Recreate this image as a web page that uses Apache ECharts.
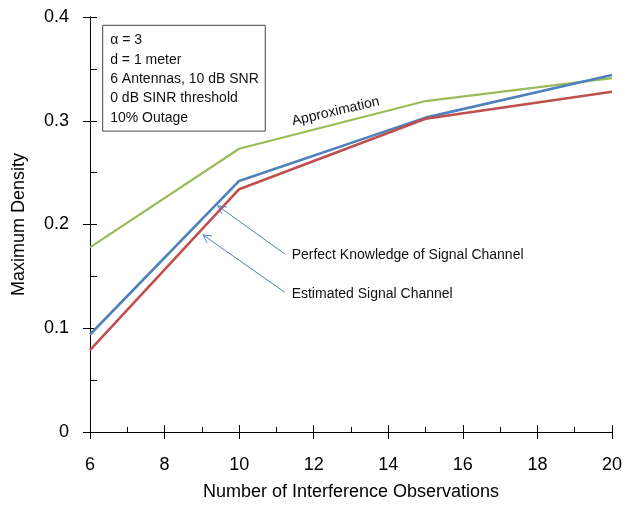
<!DOCTYPE html>
<html><head><meta charset="utf-8">
<script src="https://cdn.jsdelivr.net/npm/echarts@6/dist/echarts.min.js"></script>
<style>html,body{margin:0;padding:0;background:#fff}#c{width:625px;height:506px}</style>
</head><body><div id="c"></div>
<script>
// ---- data ----
const observations = [6, 10, 15, 20];
const approximation = [0.178, 0.273, 0.319, 0.341];
const perfectKnowledge = [0.094, 0.242, 0.303, 0.344];
const estimatedChannel = [0.079, 0.234, 0.302, 0.328];
const infoLines = ['α = 3', 'd = 1 meter', '6 Antennas, 10 dB SNR', '0 dB SINR threshold', '10% Outage'];
const seriesNames = ['Approximation', 'Perfect Knowledge of Signal Channel', 'Estimated Signal Channel'];

// ---- chart ----
const font = '"Liberation Sans", Arial, sans-serif';
const pairs = arr => observations.map((x, i) => [x, arr[i]]);
const chart = echarts.init(document.getElementById('c'), null, { renderer: 'canvas' });
const axisLine = { show: true, lineStyle: { color: '#000', width: 1 } };
const tickStyle = { color: '#000', width: 1 };
const baseX = { type: 'value', min: 6, max: 20, interval: 2, position: 'bottom', splitLine: { show: false }, axisLine };
const baseY = { type: 'value', min: 0, max: 0.4, interval: 0.1, position: 'left', splitLine: { show: false }, axisLine };

const option = {
  animation: false,
  backgroundColor: '#fff',
  grid: { left: 90, right: 12, top: 17, bottom: 72 },
  xAxis: [
    { ...baseX, name: 'Number of Interference Observations', nameLocation: 'middle', nameGap: 51,
      nameTextStyle: { fontSize: 18, color: '#000', fontFamily: font },
      axisTick: { show: true, length: 7, lineStyle: tickStyle },
      axisLabel: { fontSize: 18, color: '#000', fontFamily: font, margin: 24 } },
    { ...baseX, axisTick: { show: true, inside: true, length: 7, lineStyle: tickStyle },
      minorTick: { show: true, splitNumber: 2, length: 5, lineStyle: tickStyle },
      axisLabel: { show: false } }
  ],
  yAxis: [
    { ...baseY, name: 'Maximum Density', nameLocation: 'middle', nameGap: 62,
      nameTextStyle: { fontSize: 18, color: '#000', fontFamily: font },
      axisTick: { show: true, length: 7, lineStyle: tickStyle },
      axisLabel: { fontSize: 18, color: '#000', fontFamily: font, margin: 21 } },
    { ...baseY, axisTick: { show: true, inside: true, length: 7, lineStyle: tickStyle },
      minorTick: { show: true, splitNumber: 2, length: 7, lineStyle: tickStyle },
      axisLabel: { show: false } }
  ],
  series: [
    { name: seriesNames[0], type: 'line', data: pairs(approximation), showSymbol: false, symbol: 'none',
      lineStyle: { color: '#9BBB59', width: 2.2 }, z: 3 },
    { name: seriesNames[1], type: 'line', data: pairs(perfectKnowledge), showSymbol: false, symbol: 'none',
      lineStyle: { color: '#4F81BD', width: 2.6 }, z: 4 },
    { name: seriesNames[2], type: 'line', data: pairs(estimatedChannel), showSymbol: false, symbol: 'none',
      lineStyle: { color: '#C0504D', width: 2.6 }, z: 5 }
  ]
};
chart.setOption(option);

// ---- annotations ----
const px = (x, y) => chart.convertToPixel({ xAxisIndex: 0, yAxisIndex: 0 }, [x, y]);
function arrow(tail, head, color) {
  const dx = head[0] - tail[0], dy = head[1] - tail[1];
  const L = Math.hypot(dx, dy), ux = dx / L, uy = dy / L;
  const len = 9, a = 28 * Math.PI / 180;
  const wing = s => {
    const c = Math.cos(s * a), sn = Math.sin(s * a);
    const rx = ux * c - uy * sn, ry = ux * sn + uy * c;
    return [head[0] - rx * len, head[1] - ry * len];
  };
  return [
    { type: 'line', shape: { x1: tail[0], y1: tail[1], x2: head[0], y2: head[1] }, style: { stroke: color, lineWidth: 1 }, z: 10 },
    { type: 'polyline', shape: { points: [wing(1), head, wing(-1)] }, style: { stroke: color, lineWidth: 1, fill: null }, z: 10 }
  ];
}
const textStyle = (extra) => Object.assign({ fill: '#111', fontSize: 14, fontFamily: font }, extra);
const boxTL = px(6.34, 0.392), boxBR = px(10.70, 0.290);
const head1 = px(9.43, 0.218), tail1 = px(11.22, 0.1717);
const head2 = px(9.03, 0.190), tail2 = px(11.22, 0.1348);
const approxPos = px(12.59, 0.309);
const graphics = [
  { type: 'rect', shape: { x: boxTL[0], y: boxTL[1], width: boxBR[0] - boxTL[0], height: boxBR[1] - boxTL[1] },
    style: { fill: '#fff', stroke: '#444', lineWidth: 1 }, z: 20 },
  { type: 'text', x: boxTL[0] + 7.5, y: boxTL[1] + 5.5, z: 21,
    style: textStyle({ text: infoLines.join('\n'), lineHeight: 19.3, textVerticalAlign: 'top' }) },
  { type: 'text', x: approxPos[0], y: approxPos[1], rotation: 13 * Math.PI / 180, z: 21,
    style: textStyle({ text: seriesNames[0], textAlign: 'center', textVerticalAlign: 'middle' }) },
  { type: 'text', x: tail1[0] + 7, y: tail1[1] + 1, z: 21,
    style: textStyle({ text: seriesNames[1], textVerticalAlign: 'middle' }) },
  { type: 'text', x: tail2[0] + 7, y: tail2[1] + 2, z: 21,
    style: textStyle({ text: seriesNames[2], textVerticalAlign: 'middle' }) },
  ...arrow(tail1, head1, '#4F81BD'),
  ...arrow(tail2, head2, '#4F81BD')
];
chart.setOption({ graphic: graphics });
</script>
</body></html>
